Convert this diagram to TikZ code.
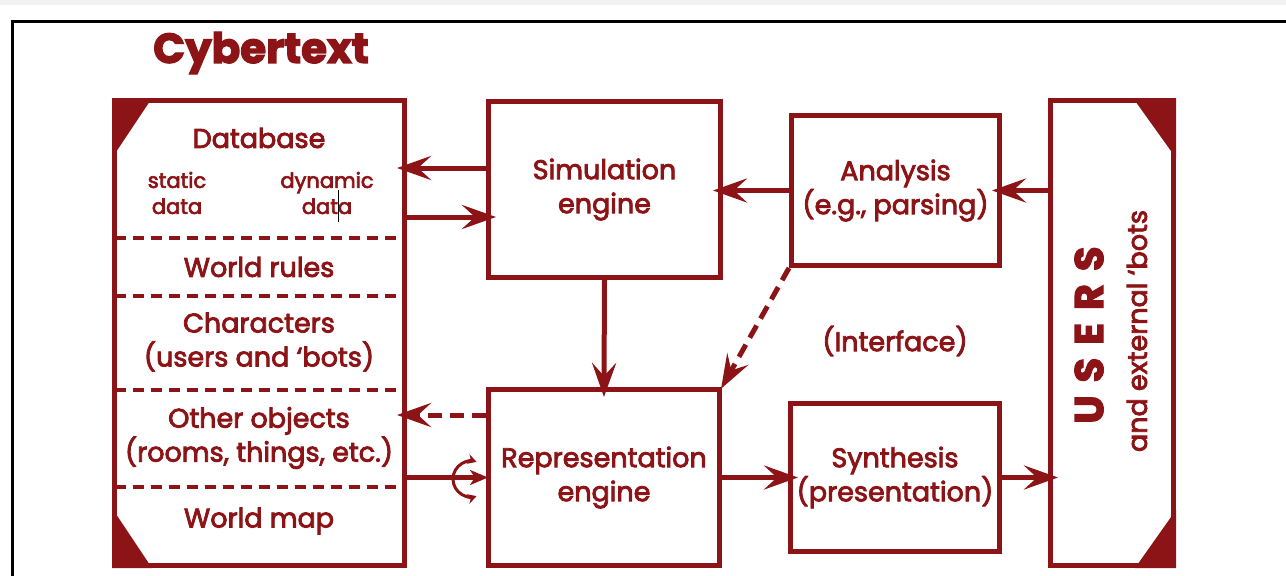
\documentclass[tikz,border=0pt]{standalone}
\usepackage{fontspec}
\setmainfont{Poppins}[FakeBold=3]
\usetikzlibrary{arrows.meta,calc}
\definecolor{dred}{RGB}{140,19,22}
\definecolor{band}{RGB}{242,242,242}
\begin{document}
\begin{tikzpicture}[x=1pt,y=-1pt,
  every node/.style={text=dred, font=\fontsize{27}{34}\selectfont},
  box/.style={draw=dred, line width=5pt, inner sep=0pt, align=center},
  lbl/.style={align=center, inner sep=0pt},
  arr/.style={draw=dred, line width=5pt, -{Stealth[length=34pt,width=24pt,inset=13pt]}, shorten >=-10pt},
  darr/.style={arr, dash pattern=on 14pt off 8pt},
  sarr/.style={draw=dred, line width=5pt, -{Stealth[length=18pt,width=15pt,inset=5pt]}, shorten >=-2pt},
  divider/.style={draw=dred, line width=4.5pt, dash pattern=on 11pt off 7pt},
  tri/.style={fill=dred},
]
\useasboundingbox (0,0) rectangle (1286,576);
\fill[band] (0,0) rectangle (1286,5);
\draw[black, line width=3pt, line join=miter] (1290,21) -- (12,21) -- (12,580);

% title
\node[font=\fontsize{42}{42}\selectfont\bfseries, inner sep=0pt] (title) at (261,53) {Cybertext};

% boxes
\node[box, minimum width=290pt, minimum height=465pt] (db) at (259.5,333) {};
\node[box, minimum width=232pt, minimum height=176pt] (sim) at (604.5,189.5) {Simulation\\engine};
\node[box, minimum width=208pt, minimum height=150pt] (ana) at (895.5,190.5) {Analysis\\(e.g., parsing)};
\node[box, minimum width=231pt, minimum height=176pt] (rep) at (604,477.5) {Representation\\engine};
\node[box, minimum width=209pt, minimum height=148pt] (syn) at (895,477.5) {Synthesis\\(presentation)};
\node[box, minimum width=123pt, minimum height=465pt] (usr) at (1112,333) {};

% corner triangles
\fill[tri] (112,98) -- (152,98) -- (112,158) -- cycle;
\fill[tri] (112,568) -- (152,568) -- (112,508) -- cycle;
\fill[tri] (1176,98) -- (1133,98) -- (1176,158) -- cycle;
\fill[tri] (1176,568) -- (1135,568) -- (1176,510) -- cycle;

% database dividers
\draw[divider] (114.5,238) -- (404.5,238);
\draw[divider] (114.5,296) -- (404.5,296);
\draw[divider] (114.5,390) -- (404.5,390);
\draw[divider] (114.5,487) -- (404.5,487);

% database texts
\node[lbl] (dbt) at (259,138) {Database};
\node[lbl, font=\fontsize{21}{26}\selectfont] (st) at (177,193) {static\\data};
\node[lbl, font=\fontsize{21}{26}\selectfont] (dy) at (327,193) {dynamic\\data};
\draw[black, line width=1pt] (338,190) -- (338,222);
\node[lbl] (wr) at (259,267) {World rules};
\node[lbl] (ch) at (259,342) {Characters\\(users and ‘bots)};
\node[lbl] (oo) at (259,438) {Other objects\\(rooms, things, etc.)};
\node[lbl] (wm) at (259,521) {World map};

% users texts
\node[rotate=90, inner sep=0pt, font=\fontsize{40}{40}\selectfont\bfseries] (us) at (1089,335) {U\hspace{13pt}S\hspace{13pt}E\hspace{13pt}R\hspace{13pt}S};
\node[rotate=90, inner sep=0pt] (ext) at (1137,331) {and external ‘bots};

\node[lbl] (intf) at (895,341) {(Interface)};

% helper rows
\coordinate (r168) at (0,168);
\coordinate (r217) at (0,217);
\coordinate (r415) at (0,415);

% connectors
\draw[arr] (sim.west |- r168) -- (db.east |- r168);
\draw[arr] (db.east |- r217) -- (sim.west |- r217);
\draw[arr] (ana.west) -- (sim.east |- ana.west);
\draw[arr] (usr.west |- ana.east) -- (ana.east);
\draw[arr] (sim.south) -- (rep.north);
\draw[darr, shorten >=-2pt] (ana.south west) -- (rep.north east);
\draw[darr] (rep.west |- r415) -- (db.east |- r415);
\draw[sarr] (db.east |- rep.west) -- (rep.west);
\draw[arr] (rep.east) -- (syn.west);
\draw[arr] (syn.east) -- (usr.west |- syn.east);

% circular symbol
\coordinate (cc) at (471,479);
\draw[dred, line width=3pt, -{Stealth[length=9pt,width=10pt,inset=3pt]}] ([xshift=-18pt]cc) arc[start angle=180, end angle=72, radius=18pt];
\draw[dred, line width=3pt, -{Stealth[length=9pt,width=10pt,inset=3pt]}] ([xshift=-18pt]cc) arc[start angle=180, end angle=288, radius=18pt];
\end{tikzpicture}
\end{document}
